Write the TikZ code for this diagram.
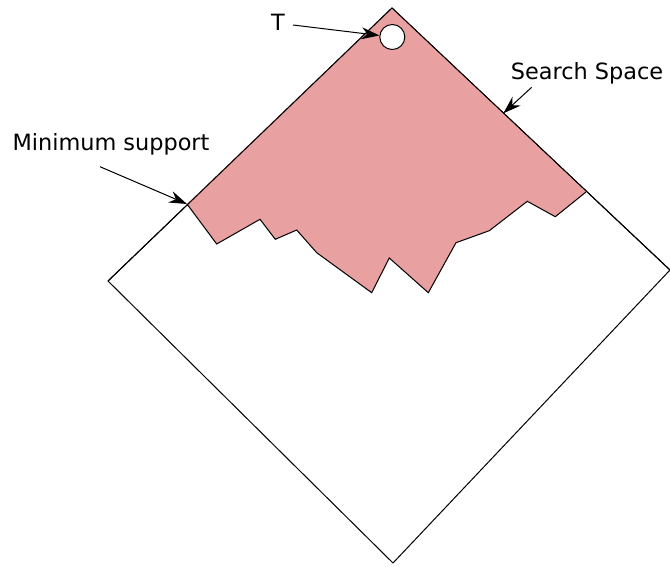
\documentclass[tikz,border=0pt]{standalone}
\usepackage{fontspec}
\setmainfont{DejaVu Sans}
\usetikzlibrary{arrows.meta}
\definecolor{regionpink}{RGB}{232,160,160}

\begin{document}
\begin{tikzpicture}[x=1pt,y=-1pt,line width=1pt,
    pointer/.style={-{Stealth[length=18pt,width=12pt,inset=6pt]}},
    label/.style={font=\fontsize{22.4}{26}\selectfont,inner sep=0pt}]
            \useasboundingbox (0,0) rectangle (670,566);

            % Draw search space
            \coordinate (top) at (392,8);
            \coordinate (right) at (670,270);
            \coordinate (bottom) at (393,563);
            \coordinate (left) at (108,281);
            \draw (top) -- (right) -- (bottom) -- (left) -- cycle;

            % Draw frequent region
            \coordinate (minsup) at (187,204);
            \fill[regionpink] (minsup) -- (216.7,244) -- (260,219.3) -- (275.3,239.3)
                -- (296.7,230) -- (316.7,252.7) -- (371.7,292.7) -- (389.3,258)
                -- (428.3,292.7) -- (456,242.7) -- (489.3,230.7) -- (527.3,201.3)
                -- (555.3,216.7) -- (586,192) -- (top) -- cycle;
            \draw (minsup) -- (216.7,244) -- (260,219.3) -- (275.3,239.3)
                -- (296.7,230) -- (316.7,252.7) -- (371.7,292.7) -- (389.3,258)
                -- (428.3,292.7) -- (456,242.7) -- (489.3,230.7) -- (527.3,201.3)
                -- (555.3,216.7) -- (586,192);
            \draw (left) -- (top) -- (right);

            % Draw root node
            \node[circle,draw,fill=white,minimum size=25pt,inner sep=0pt] (root) at (392.3,37) {};

            % Draw labels
            \node[label] (tlabel) at (278,22) {T};
            \node[label] (spacelabel) at (587,73) {Search Space};
            \node[label] (minlabel) at (111,144) {Minimum support};

            % Draw pointers
            \coordinate (ttail) at (293,25);
            \coordinate (spacetail) at (531.7,87.3);
            \coordinate (spacetip) at (503.3,113.3);
            \coordinate (mintail) at (100,166.7);
            \draw[pointer] (ttail) -- (root);
            \draw[pointer] (spacetail) -- (spacetip);
            \draw[pointer] (mintail) -- (minsup);
        \end{tikzpicture}
\end{document}
